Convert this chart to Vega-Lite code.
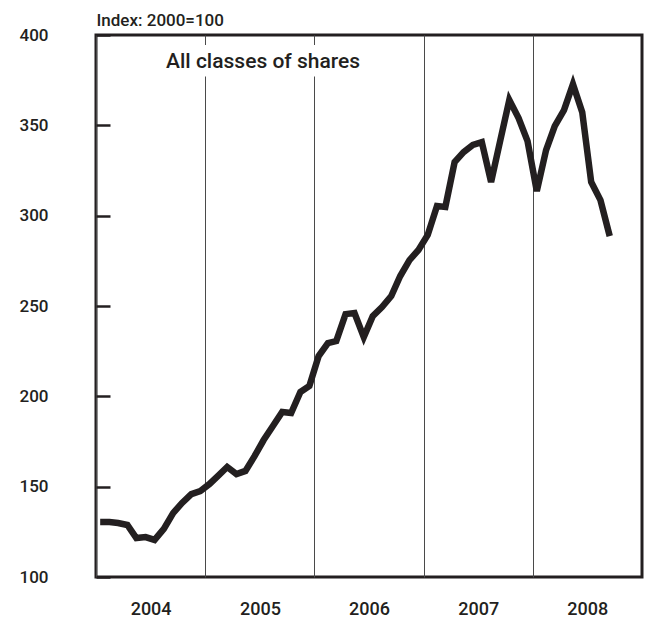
{
  "$schema": "https://vega.github.io/schema/vega-lite/v6.json",
  "width": 546,
  "height": 542,
  "autosize": {"type": "none"},
  "padding": {"left": 96, "top": 35, "right": 10, "bottom": 45},
  "background": "white",
  "config": {
    "view": {"stroke": "#231f20", "strokeWidth": 3},
    "font": "Roboto"
  },
  "layer": [
    {
      "data": {"values": [{"label": "All classes of shares"}]},
      "mark": {"type": "rect", "color": "white", "opacity": 1},
      "encoding": {
        "x": {"datum": {"year": 2004, "month": 8, "date": 1, "utc": true}, "type": "temporal"},
        "x2": {"datum": {"year": 2006, "month": 6, "date": 15, "utc": true}},
        "y": {"datum": 377, "type": "quantitative"},
        "y2": {"datum": 394.5}
      }
    },
    {
      "data": {"values": [{"label": "All classes of shares"}]},
      "mark": {"type": "text", "fontSize": 21, "fontWeight": 500, "align": "center", "baseline": "alphabetic", "color": "#231f20"},
      "encoding": {
        "text": {"field": "label"},
        "x": {"datum": {"year": 2005, "month": 7, "date": 13, "utc": true}, "type": "temporal"},
        "y": {"datum": 381.7, "type": "quantitative"}
      }
    },
    {
      "data": {
        "values": [
          {"date": "2004-01-15", "value": 130.4},
          {"date": "2004-02-15", "value": 130.4},
          {"date": "2004-03-15", "value": 129.9},
          {"date": "2004-04-15", "value": 128.8},
          {"date": "2004-05-15", "value": 121.6},
          {"date": "2004-06-15", "value": 122.1},
          {"date": "2004-07-15", "value": 120.5},
          {"date": "2004-08-15", "value": 126.6},
          {"date": "2004-09-15", "value": 135.4},
          {"date": "2004-10-15", "value": 141.0},
          {"date": "2004-11-15", "value": 145.9},
          {"date": "2004-12-15", "value": 147.6},
          {"date": "2005-01-15", "value": 151.5},
          {"date": "2005-02-15", "value": 156.4},
          {"date": "2005-03-15", "value": 160.9},
          {"date": "2005-04-15", "value": 157.0},
          {"date": "2005-05-15", "value": 158.7},
          {"date": "2005-06-15", "value": 167.0},
          {"date": "2005-07-15", "value": 175.8},
          {"date": "2005-08-15", "value": 183.6},
          {"date": "2005-09-15", "value": 191.3},
          {"date": "2005-10-15", "value": 190.8},
          {"date": "2005-11-15", "value": 202.4},
          {"date": "2005-12-15", "value": 205.7},
          {"date": "2006-01-15", "value": 222.3},
          {"date": "2006-02-15", "value": 229.5},
          {"date": "2006-03-15", "value": 230.6},
          {"date": "2006-04-15", "value": 245.5},
          {"date": "2006-05-15", "value": 246.1},
          {"date": "2006-06-15", "value": 232.8},
          {"date": "2006-07-15", "value": 244.4},
          {"date": "2006-08-15", "value": 249.4},
          {"date": "2006-09-15", "value": 255.5},
          {"date": "2006-10-15", "value": 266.6},
          {"date": "2006-11-15", "value": 275.4},
          {"date": "2006-12-15", "value": 281.0},
          {"date": "2007-01-15", "value": 289.3},
          {"date": "2007-02-15", "value": 305.3},
          {"date": "2007-03-15", "value": 304.8},
          {"date": "2007-04-15", "value": 329.7},
          {"date": "2007-05-15", "value": 335.2},
          {"date": "2007-06-15", "value": 339.1},
          {"date": "2007-07-15", "value": 340.7},
          {"date": "2007-08-15", "value": 318.6},
          {"date": "2007-09-15", "value": 341.8},
          {"date": "2007-10-15", "value": 364.0},
          {"date": "2007-11-15", "value": 354.0},
          {"date": "2007-12-15", "value": 341.3},
          {"date": "2008-01-15", "value": 313.6},
          {"date": "2008-02-15", "value": 336.3},
          {"date": "2008-03-15", "value": 349.6},
          {"date": "2008-04-15", "value": 358.4},
          {"date": "2008-05-15", "value": 372.8},
          {"date": "2008-06-15", "value": 357.3},
          {"date": "2008-07-15", "value": 318.6},
          {"date": "2008-08-15", "value": 308.6},
          {"date": "2008-09-15", "value": 288.7}
        ]
      },
      "mark": {"type": "line", "color": "#231f20", "strokeWidth": 6.5, "strokeJoin": "miter", "strokeCap": "butt"},
      "encoding": {
        "x": {
          "field": "date",
          "type": "temporal",
          "scale": {
            "type": "utc",
            "domain": [
              {"year": 2004, "month": 1, "date": 1, "utc": true},
              {"year": 2009, "month": 1, "date": 1, "utc": true}
            ]
          },
          "axis": {
            "title": null,
            "values": [
              {"year": 2004, "month": 1, "date": 1, "utc": true},
              {"year": 2005, "month": 1, "date": 1, "utc": true},
              {"year": 2006, "month": 1, "date": 1, "utc": true},
              {"year": 2007, "month": 1, "date": 1, "utc": true},
              {"year": 2008, "month": 1, "date": 1, "utc": true}
            ],
            "format": "%Y",
            "formatType": "utc",
            "labelOffset": 54.6,
            "labelFlush": false,
            "labelOverlap": false,
            "labelBound": false,
            "ticks": false,
            "domain": false,
            "grid": true,
            "gridColor": "#4a4a4a",
            "gridWidth": 1,
            "gridOpacity": 1,
            "labelFontSize": 18,
            "labelFontWeight": 500,
            "labelColor": "#231f20",
            "labelPadding": 23,
            "labelBaseline": "top"
          }
        },
        "y": {
          "field": "value",
          "type": "quantitative",
          "scale": {"domain": [100, 400], "nice": false, "zero": false},
          "axis": {
            "values": [100, 150, 200, 250, 300, 350, 400],
            "offset": -14,
            "zindex": 2,
            "title": "Index: 2000=100",
            "titleAngle": 0,
            "titleX": -14,
            "titleY": -10,
            "titleAlign": "left",
            "titleBaseline": "alphabetic",
            "titleFontSize": 17,
            "titleFontWeight": 500,
            "titleColor": "#231f20",
            "grid": false,
            "domain": false,
            "ticks": true,
            "tickSize": 14,
            "tickWidth": 2.5,
            "tickColor": "#231f20",
            "tickOpacity": 1,
            "labelFontSize": 17,
            "labelFontWeight": 500,
            "labelColor": "#231f20",
            "labelPadding": 48,
            "labelAlign": "right",
            "labelBaseline": "middle"
          }
        }
      }
    }
  ]
}
